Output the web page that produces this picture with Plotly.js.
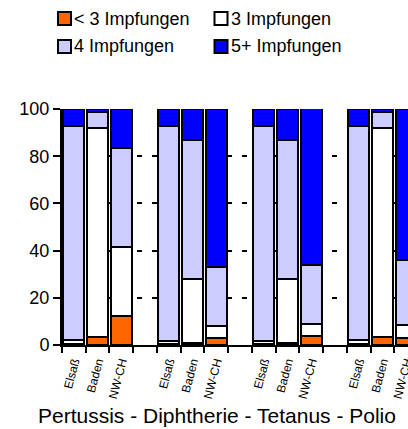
<!DOCTYPE html>
<html>
<head>
<meta charset="utf-8">
<script src="https://cdn.plot.ly/plotly-3.0.1.min.js"></script>
<style>
html,body{margin:0;padding:0;overflow:hidden;background:#fff;}
#chart{width:430px;height:429px;}
</style>
</head>
<body>
<div id="chart"></div>
<script>
// ---- data ----
const vaccines = ["Pertussis", "Diphtherie", "Tetanus", "Polio"];
const regions = ["Elsaß", "Baden", "NW-CH"];
const seriesNames = ["< 3 Impfungen", "3 Impfungen", "4 Impfungen", "5+ Impfungen"];
const lessThan3 = [0.5, 3.5, 12.5,  0.5, 1, 3,    0.5, 1, 4,    0.5, 3.5, 3];
const three     = [1.5, 88.3, 29,   1, 27, 5,     1, 27, 4.8,   1.5, 88.3, 5.5];
const four      = [91, 7, 42,       91.5, 59, 25.2, 91.5, 59, 25, 91, 7, 27.5];
const fivePlus  = [7, 1.2, 16.5,    7, 13, 66.8,  7, 13, 67.2,  7, 1.2, 64];
const yTicks = [0, 20, 40, 60, 80, 100];
const title = "Pertussis - Diphtherie - Tetanus - Polio";

// ---- styles ----
const colors = ["#FF6600", "#FFFFFF", "#CCCCFF", "#0000FF"];
const FONT = "Arial, 'Liberation Sans', sans-serif";
const W = 430, H = 429, L = 62, R = 12, T = 109, B = 84;
const plotW = W - L - R, plotH = H - T - B;
const px2x = p => (p - L) / plotW;
const py2y = p => (H - B - p) / plotH;

// bar positions: groups of regions separated by one empty slot
const slot = regions.length + 1;
const xPos = [], xLabels = [];
vaccines.forEach((v, i) => regions.forEach((r, j) => { xPos.push(i * slot + j); xLabels.push(r); }));
const nSlots = vaccines.length * slot - 1;

const values = [lessThan3, three, four, fivePlus];
const traces = values.map((vals, k) => ({
  type: "bar",
  x: xPos,
  y: vals,
  name: seriesNames[k],
  showlegend: false,
  cliponaxis: false,
  marker: { color: colors[k], line: { color: "#000", width: 2 } },
  hoverinfo: "x+y+name"
}));

// custom legend (swatch + text)
const legCols = [58, 214.5], legRows = [18.5, 46.5], sw = 13;
const shapes = [], annotations = [];
seriesNames.forEach((nm, k) => {
  const cx = legCols[k % 2], cy = legRows[Math.floor(k / 2)];
  shapes.push({
    type: "rect", xref: "paper", yref: "paper",
    x0: px2x(cx), x1: px2x(cx + sw), y0: py2y(cy + sw / 2), y1: py2y(cy - sw / 2),
    fillcolor: colors[k], line: { color: "#000", width: 2 }
  });
  annotations.push({
    xref: "paper", yref: "paper", x: px2x(cx + sw + 1), y: py2y(cy),
    xanchor: "left", yanchor: "middle", showarrow: false, text: nm,
    font: { family: FONT, size: 18, color: "#000" }
  });
});
annotations.push({
  xref: "paper", yref: "paper", x: px2x(216.5), y: py2y(415),
  xanchor: "center", yanchor: "middle", showarrow: false, text: title,
  font: { family: FONT, size: 21, color: "#000" }
});

const layout = {
  width: W, height: H,
  margin: { l: L, r: R, t: T, b: B, pad: 0 },
  paper_bgcolor: "#fff", plot_bgcolor: "#fff",
  barmode: "stack", bargap: 0.12,
  showlegend: false,
  font: { family: FONT, color: "#000" },
  xaxis: {
    type: "linear", range: [-0.5, nSlots - 0.5], fixedrange: true,
    tickmode: "array", tickvals: xPos, ticktext: xLabels,
    tickangle: -75, ticks: "", ticklen: 0, ticklabelstandoff: 3,
    tickfont: { family: FONT, size: 12, color: "#000" },
    showline: true, linecolor: "#000", linewidth: 2,
    showgrid: false, zeroline: false,
    minor: { ticks: "outside", ticklen: 6, tickwidth: 2, tickcolor: "#000", tick0: -0.5, dtick: 1, showgrid: false }
  },
  yaxis: {
    range: [0, 100], fixedrange: true,
    tickmode: "array", tickvals: yTicks,
    ticks: "outside", ticklen: 7, tickwidth: 2, tickcolor: "#000",
    tickfont: { family: FONT, size: 18, color: "#000" },
    showline: true, linecolor: "#000", linewidth: 2,
    showgrid: true, gridcolor: "#000", gridwidth: 2, griddash: "5px,10px",
    zeroline: false
  },
  shapes: shapes,
  annotations: annotations
};

Plotly.newPlot("chart", traces, layout, { displayModeBar: false, staticPlot: true });
</script>
</body>
</html>
